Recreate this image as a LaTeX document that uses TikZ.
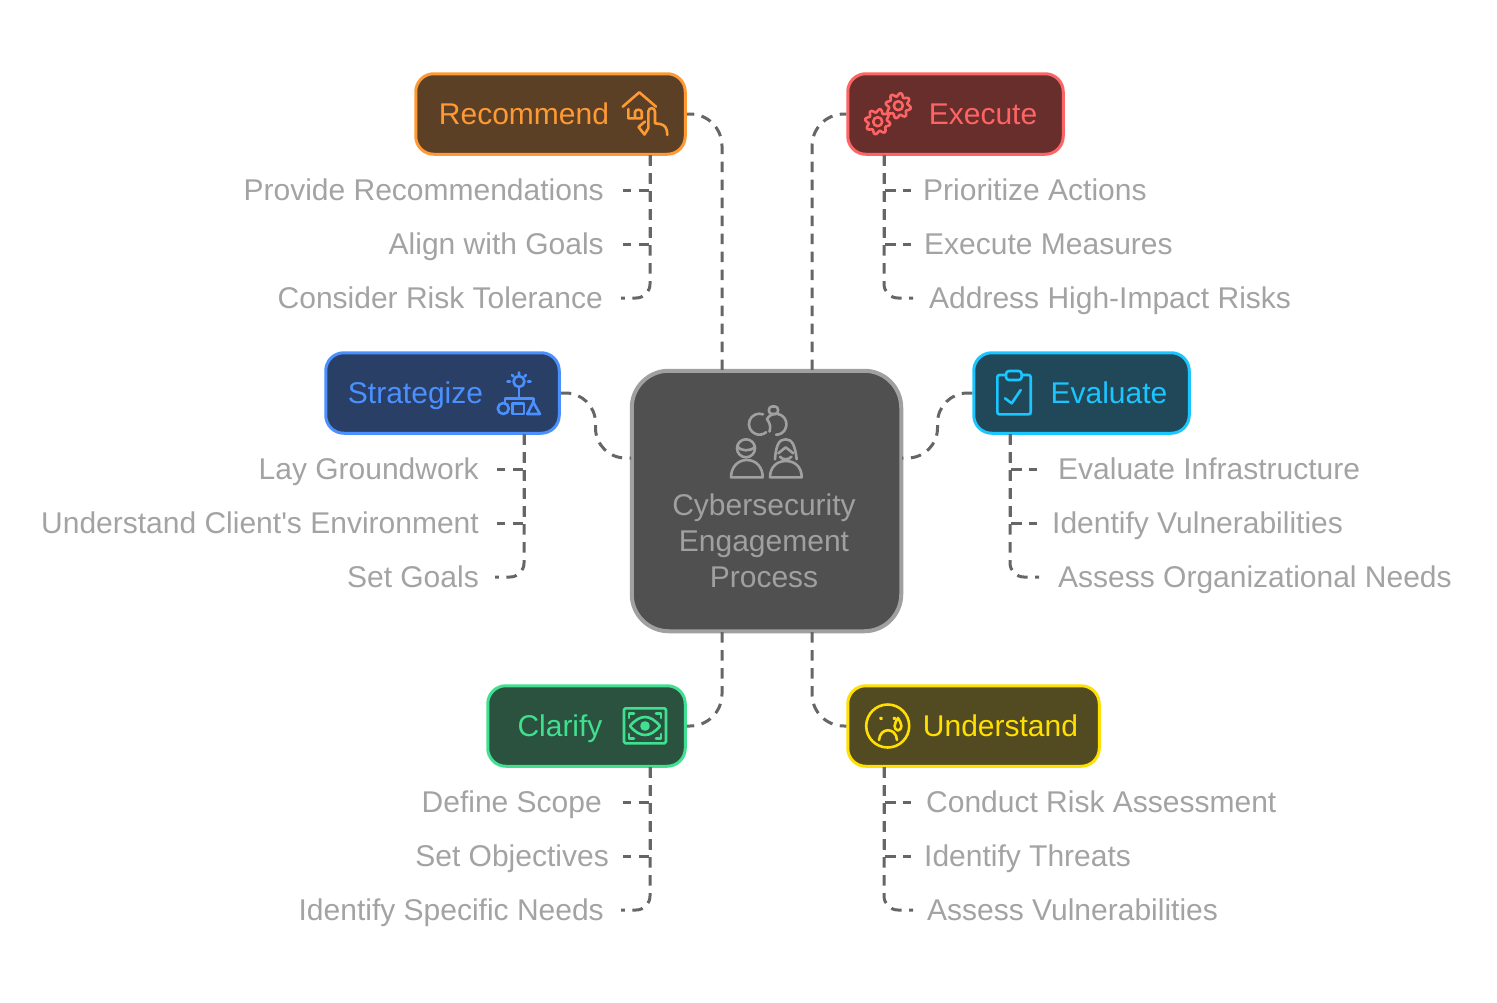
\documentclass[tikz,border=0pt]{standalone}
\usepackage{fontspec}
\setmainfont{Liberation Sans}
\usepackage{tikz}
\usetikzlibrary{positioning,calc}
\definecolor{colLink}{HTML}{666666}
\definecolor{colLeaf}{HTML}{A3A3A3}
\definecolor{colHubFill}{HTML}{505050}
\definecolor{colHubLine}{HTML}{A0A0A0}
\definecolor{colRec}{HTML}{FF9933}
\definecolor{colRecFill}{HTML}{5B4026}
\definecolor{colExe}{HTML}{FF6464}
\definecolor{colExeFill}{HTML}{682E2C}
\definecolor{colStr}{HTML}{4A90FF}
\definecolor{colStrFill}{HTML}{2A3F66}
\definecolor{colEva}{HTML}{1AC6FF}
\definecolor{colEvaFill}{HTML}{204859}
\definecolor{colCla}{HTML}{40E090}
\definecolor{colClaFill}{HTML}{2B523F}
\definecolor{colUnd}{HTML}{FFE000}
\definecolor{colUndFill}{HTML}{524A20}
\newcommand{\gearIcon}[2]{\draw[icon] plot[domain=0:360,samples=97,smooth] ({#1+(11+1.7*sin(8*\x))*cos(\x)},{#2+(11+1.7*sin(8*\x))*sin(\x)}) -- cycle; \draw[icon] (#1,#2) circle (4.5);}
\begin{document}
\begin{tikzpicture}[
        x=1pt, y=-1pt,
        box/.style={draw, rounded corners=18pt, line width=3pt, minimum height=80.5pt, inner sep=0pt},
        hubbox/.style={draw=colHubLine, fill=colHubFill, rounded corners=37pt, line width=4pt, minimum width=269.5pt, minimum height=260.5pt, inner sep=0pt},
        boxlbl/.style={font=\fontsize{30}{30}\selectfont, inner sep=0pt, text height=21pt, text depth=0pt},
        hublbl/.style={font=\fontsize{30}{36}\selectfont, text=colHubLine, align=center, inner sep=0pt},
        leafl/.style={font=\fontsize{30}{30}\selectfont, text=colLeaf, anchor=east, inner ysep=0pt, inner xsep=19pt, text height=20pt, text depth=0pt},
        leafr/.style={font=\fontsize{30}{30}\selectfont, text=colLeaf, anchor=west, inner ysep=0pt, inner xsep=13pt, text height=20pt, text depth=0pt},
        link/.style={draw=colLink, line width=3pt, dash pattern=on 10.5pt off 7.5pt},
        icon/.style={line width=2.6pt, line cap=round, line join=round}
    ]
        \useasboundingbox (0,0) rectangle (1497,1002);

        % Bloque central
        \node[hubbox] (hub) at (766.5,501) {};
        \node[hublbl] (hubtxt) at (764,541) {Cybersecurity\\Engagement\\Process};

        % Cajas de fases
        \node[box, draw=colRec, fill=colRecFill, minimum width=269.5pt] (recommend) at (550.5,114) {};
        \node[box, draw=colExe, fill=colExeFill, minimum width=215.5pt] (execute) at (955.5,114) {};
        \node[box, draw=colStr, fill=colStrFill, minimum width=233.5pt] (strategize) at (442.5,393) {};
        \node[box, draw=colEva, fill=colEvaFill, minimum width=215.5pt] (evaluate) at (1081.5,393) {};
        \node[box, draw=colCla, fill=colClaFill, minimum width=197.5pt] (clarify) at (586.5,726) {};
        \node[box, draw=colUnd, fill=colUndFill, minimum width=251.5pt] (understand) at (973.5,726) {};

        \node[boxlbl, text=colRec] (recommendtxt) at (524,114) {Recommend};
        \node[boxlbl, text=colExe] (executetxt) at (983,114) {Execute};
        \node[boxlbl, text=colStr] (strategizetxt) at (415.5,393) {Strategize};
        \node[boxlbl, text=colEva] (evaluatetxt) at (1109,393) {Evaluate};
        \node[boxlbl, text=colCla] (clarifytxt) at (560,726) {Clarify};
        \node[boxlbl, text=colUnd] (understandtxt) at (1000.5,726) {Understand};

        % Puertos del bloque central y pies de las cajas
        \coordinate (hubNL) at (722,370);
        \coordinate (hubNR) at (812,370);
        \coordinate (hubSL) at (722,632);
        \coordinate (hubSR) at (812,632);
        \coordinate (hubWT) at (631,458);
        \coordinate (hubET) at (902,458);
        \coordinate (recfoot) at (650,155);
        \coordinate (exefoot) at (884,155);
        \coordinate (strfoot) at (524,434);
        \coordinate (evafoot) at (1010,434);
        \coordinate (clafoot) at (650,767);
        \coordinate (undfoot) at (884,767);

        % Textos de detalle
        \node[leafl] (recA) at (623,190) {Provide Recommendations};
        \node[leafl] (recB) at (623,244) {Align with Goals};
        \node[leafl, inner xsep=18pt] (recC) at (621,298) {Consider Risk Tolerance};
        \node[leafr, inner xsep=12pt] (exeA) at (911,190) {Prioritize Actions};
        \node[leafr] (exeB) at (911,244) {Execute Measures};
        \node[leafr, inner xsep=16pt] (exeC) at (913,298) {Address High-Impact Risks};
        \node[leafl, inner xsep=18pt] (strA) at (497,469) {Lay Groundwork};
        \node[leafl, inner xsep=18pt] (strB) at (497,523) {Understand Client\textquotesingle s Environment};
        \node[leafl, inner xsep=16pt] (strC) at (495,577) {Set Goals};
        \node[leafr, inner xsep=21pt] (evaA) at (1037,469) {Evaluate Infrastructure};
        \node[leafr, inner xsep=15pt] (evaB) at (1037,523) {Identify Vulnerabilities};
        \node[leafr, inner xsep=19pt] (evaC) at (1039,577) {Assess Organizational Needs};
        \node[leafl, inner xsep=21pt] (claA) at (623,802) {Define Scope};
        \node[leafl, inner xsep=14pt] (claB) at (623,856) {Set Objectives};
        \node[leafl, inner xsep=17pt] (claC) at (621,910) {Identify Specific Needs};
        \node[leafr, inner xsep=15pt] (undA) at (911,802) {Conduct Risk Assessment};
        \node[leafr] (undB) at (911,856) {Identify Threats};
        \node[leafr, inner xsep=14pt] (undC) at (913,910) {Assess Vulnerabilities};

        % Conexiones del bloque central a las cajas
        \draw[link, rounded corners=32pt] (hubNL) |- (recommend.east);
        \draw[link, rounded corners=32pt] (hubNR) |- (execute.west);
        \draw[link, rounded corners=32pt] (hubSL) |- (clarify.east);
        \draw[link, rounded corners=32pt] (hubSR) |- (understand.west);
        \draw[link, rounded corners=30pt] (strategize.east) -- (595.5,393) -- (595.5,458) -- (hubWT);
        \draw[link, rounded corners=30pt] (evaluate.west) -- (937.5,393) -- (937.5,458) -- (hubET);

        % Conexiones de cada caja a sus textos
        \draw[link] (recfoot) |- (recA.east);
        \draw[link] (recfoot) |- (recB.east);
        \draw[link, rounded corners=14pt] (recfoot) |- (recC.east);
        \draw[link] (exefoot) |- (exeA.west);
        \draw[link] (exefoot) |- (exeB.west);
        \draw[link, rounded corners=14pt] (exefoot) |- (exeC.west);
        \draw[link] (strfoot) |- (strA.east);
        \draw[link] (strfoot) |- (strB.east);
        \draw[link, rounded corners=14pt] (strfoot) |- (strC.east);
        \draw[link] (evafoot) |- (evaA.west);
        \draw[link] (evafoot) |- (evaB.west);
        \draw[link, rounded corners=14pt] (evafoot) |- (evaC.west);
        \draw[link] (clafoot) |- (claA.east);
        \draw[link] (clafoot) |- (claB.east);
        \draw[link, rounded corners=14pt] (clafoot) |- (claC.east);
        \draw[link] (undfoot) |- (undA.west);
        \draw[link] (undfoot) |- (undB.west);
        \draw[link, rounded corners=14pt] (undfoot) |- (undC.west);

        % Icono: casa y mano
        \begin{scope}[every path/.append style={draw=colRec}]
            \draw[icon] (622.7,106.7) -- (639.3,92.3) -- (656,106.7);
            \draw[icon] (628.3,109) -- (628.3,118.3) -- (641.7,118.3) -- (641.7,112) .. controls (641.7,109) and (635,109) .. (635,112) -- (635,118.3);
            \draw[icon] (648.3,128.3) -- (648.3,111.7) .. controls (648.3,107) and (655,107) .. (655,111.7) -- (655,123.3) -- (660,124) .. controls (665,125) and (667.3,128) .. (667.3,135);
            \draw[icon] (645,121.5) -- (638.5,127) -- (644.5,134.5) -- (648.3,128.3);
        \end{scope}

        % Icono: engranajes
        \begin{scope}[every path/.append style={draw=colExe}]
            \gearIcon{877.7}{121.7}
            \gearIcon{898.3}{105.7}
        \end{scope}

        % Icono: bombilla y figuras
        \begin{scope}[every path/.append style={draw=colStr}]
            \draw[icon] (519,381.5) circle (5.5);
            \draw[icon] (519,372.5) -- (519,374.5) (510,381.5) -- (507.5,381.5) (528,381.5) -- (530.5,381.5) (512,375) -- (513.5,376.5) (526,375) -- (524.5,376.5);
            \draw[icon] (519,387) -- (519,398.3) (505,403) -- (505,398.3) -- (533.3,398.3) -- (533.3,402);
            \draw[icon] (503.3,408.5) circle (5.5);
            \draw[icon] (512.7,403.3) rectangle (524,414);
            \draw[icon] (527.3,414) -- (540,414) -- (533.3,402.3) -- cycle;
        \end{scope}

        % Icono: portapapeles
        \begin{scope}[every path/.append style={draw=colEva}]
            \draw[icon, rounded corners=2pt] (1006,375) -- (997.3,375) -- (997.3,414.3) -- (1030.7,414.3) -- (1030.7,375) -- (1021.7,375);
            \draw[icon, rounded corners=3pt] (1006,371) rectangle (1021.7,380);
            \draw[icon] (1005,398.3) -- (1011.7,403.3) -- (1020.7,390);
        \end{scope}

        % Icono: ojo enmarcado
        \begin{scope}[every path/.append style={draw=colCla}]
            \draw[icon, rounded corners=1.5pt] (624,708.3) rectangle (666,743.3);
            \draw[icon] (629,718) -- (629,713.5) -- (634,713.5) (656,713.5) -- (661,713.5) -- (661,718);
            \draw[icon] (629,734) -- (629,738.3) -- (634,738.3) (656,738.3) -- (661,738.3) -- (661,734);
            \draw[icon] (630,726) .. controls (640,714) and (650,714) .. (660,726) .. controls (650,738) and (640,738) .. (630,726) -- cycle;
            \draw[icon, fill=colCla] (645,726) circle (3.5);
        \end{scope}

        % Icono: cara triste
        \begin{scope}[every path/.append style={draw=colUnd}]
            \draw[icon] (887.7,726) circle (21.5);
            \draw[icon, fill=colUnd] (881,718.3) circle (.6) (894.3,718.3) circle (.6);
            \draw[icon] (879,740) .. controls (880,727) and (896,727) .. (897,740);
            \draw[icon] (898,718) .. controls (894,724) and (893,729) .. (898,730.5) .. controls (903,729) and (902,724) .. (898,718) -- cycle;
        \end{scope}

        % Icono: anillos y personas
        \begin{scope}[every path/.append style={draw=colHubLine}]
            \draw[icon] (763,414.3) arc[start angle=-70, end angle=-310, radius=10.5];
            \draw[icon] (766.9,419) arc[start angle=-150, end angle=90, radius=10.5];
            \draw[icon] (766.9,419) .. controls (770,423) and (771,427) .. (769.5,431.5);
            \draw[icon, rounded corners=3pt] (769,406.5) rectangle (778,414);
            \draw[icon] (746,448.3) circle (9);
            \draw[icon] (737.3,446.7) .. controls (741,451) and (750,452) .. (755,446.7);
            \draw[icon] (731,477.3) -- (762.7,477.3) .. controls (762.7,467) and (756,460) .. (746.8,460) .. controls (738,460) and (731,467) .. (731,477.3) -- cycle;
            \draw[icon] (775,459.3) .. controls (776,445) and (779,439.3) .. (785.7,439.3) .. controls (792,439.3) and (795,445) .. (796.7,459.3);
            \draw[icon] (778.3,453.3) -- (785.7,447.3) -- (793.3,453.3);
            \draw[icon] (780,456.7) .. controls (782,460) and (789,460) .. (791.5,456.7);
            \draw[icon] (770,477.3) -- (801.7,477.3) .. controls (801.7,467) and (795,461) .. (785.8,461) .. controls (777,461) and (770,467) .. (770,477.3) -- cycle;
        \end{scope}
    \end{tikzpicture}
\end{document}
